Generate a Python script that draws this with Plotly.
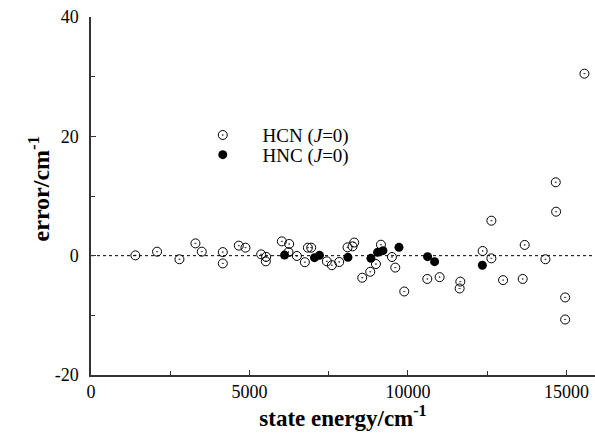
import plotly.graph_objects as go

# HCN (J=0) state energies (cm^-1) and errors (cm^-1)
hcn_energy = [1400, 2084, 2790, 3295, 3495, 4158, 4158, 4663, 4873, 5368, 5526, 5515,
              6020, 6252, 6230, 6495, 6747, 6842, 6947, 7441, 7599, 7830,
              8094, 8252, 8305, 8557, 8810, 8989, 9147, 9495, 9599, 9883,
              10609, 10998, 11651, 11630, 12356, 12631, 12631, 13000,
              13682, 13619, 14336, 14958, 14958, 14662, 14673, 15567]
hcn_error = [0.05, 0.67, -0.6, 2.06, 0.67, 0.6, -1.3, 1.68, 1.34, 0.22, -0.2, -0.95,
             2.4, 1.96, 0.6, -0.05, -1.1, 1.34, 1.34, -0.95, -1.6, -1.06,
             1.4, 1.56, 2.2, -3.7, -2.7, -1.4, 1.84, -0.22, -2.0, -6.0,
             -3.9, -3.6, -4.35, -5.5, 0.78, -0.45, 5.86, -4.1,
             1.8, -3.9, -0.6, -7.0, -10.7, 12.3, 7.37, 30.5]

# HNC (J=0)
hnc_energy = [6105, 7051, 7209, 8105, 8831, 9041, 9210, 9716, 10619, 10840, 12346]
hnc_error = [0.1, -0.33, 0.06, -0.28, -0.45, 0.56, 0.84, 1.4, -0.17, -1.0, -1.6]

x_ticks = [0, 5000, 10000, 15000]
x_labels = ["0", "5000", "10000", "15000"]
y_ticks = [-20, 0, 20, 40]
y_labels = ["-20", "0", "20", "40"]

FONT = "Liberation Serif"
AX = "#333333"

fig = go.Figure()
fig.add_trace(go.Scatter(
    x=hcn_energy, y=hcn_error, mode="markers", name="&nbsp;HCN (<i>J</i>=0)",
    legend="legend", cliponaxis=False,
    marker=dict(symbol="circle-open-dot", size=9, color="black", line=dict(width=1, color="black")),
))
fig.add_trace(go.Scatter(
    x=hnc_energy, y=hnc_error, mode="markers", name="&nbsp;HNC (<i>J</i>=0)",
    legend="legend2", cliponaxis=False,
    marker=dict(symbol="circle", size=9, color="black"),
))

fig.add_shape(type="line", xref="paper", yref="y", x0=0, x1=1, y0=0, y1=0,
              line=dict(color="black", width=1, dash="dot"), layer="below")

leg_common = dict(xanchor="left", yanchor="middle", bgcolor="rgba(0,0,0,0)",
                  font=dict(size=19, family=FONT), itemwidth=60)

fig.update_layout(
    width=595, height=435,
    margin=dict(l=91, r=0, t=17, b=60, autoexpand=False),
    paper_bgcolor="white", plot_bgcolor="white",
    font=dict(family=FONT, size=18, color="black"),
    showlegend=True,
    legend=dict(x=0.192, y=0.67, **leg_common),
    legend2=dict(x=0.192, y=0.615, **leg_common),
    xaxis=dict(range=[0, 15900], tickvals=x_ticks, ticktext=x_labels, ticks="inside", ticklen=5,
               tickcolor=AX, showline=True, linecolor=AX, linewidth=1.5,
               showgrid=False, zeroline=False, automargin=False,
               minor=dict(dtick=2500, ticks="inside", ticklen=4, tickcolor=AX),
               tickfont=dict(size=18, family=FONT),
               title=dict(text="<b>state energy/cm<sup>-1</sup></b>", font=dict(size=23, family=FONT), standoff=3)),
    yaxis=dict(range=[-20, 40], tickvals=y_ticks, ticktext=y_labels, ticks="inside", ticklen=5,
               tickcolor=AX, showline=True, linecolor=AX, linewidth=1.5,
               showgrid=False, zeroline=False, automargin=False, ticklabelstandoff=7,
               minor=dict(dtick=10, ticks="inside", ticklen=4, tickcolor=AX),
               tickfont=dict(size=18, family=FONT)),
    annotations=[dict(text="<b>error/cm<sup>-1</sup></b>", textangle=-90,
                      xref="paper", yref="paper", x=-0.104, y=0.52,
                      xanchor="center", yanchor="middle", showarrow=False,
                      font=dict(size=24, family=FONT))],
)

fig.write_html("out.html", config={"displayModeBar": False},
               post_script="document.body.style.margin='0';document.body.style.overflow='hidden';")
